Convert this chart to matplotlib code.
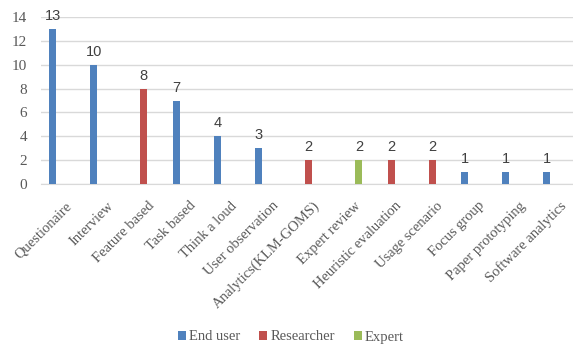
import matplotlib
matplotlib.use("Agg")
import matplotlib.pyplot as plt
import matplotlib.transforms as mtransforms
from matplotlib.font_manager import FontProperties
import numpy as np

categories = ["Questionaire", "Interview", "Feature based", "Task based", "Think a loud",
              "User observation", "Analytics(KLM-GOMS)", "Expert review", "Heuristic evaluation",
              "Usage scenario", "Focus group", "Paper prototyping", "Software analytics"]
end_user   = [13, 10, 0, 7, 4, 3, 0, 0, 0, 0, 1, 1, 1]
researcher = [0, 0, 8, 0, 0, 0, 2, 0, 2, 2, 0, 0, 0]
expert     = [0, 0, 0, 0, 0, 0, 0, 2, 0, 0, 0, 0, 0]
series_names = ["End user", "Researcher", "Expert"]
colors = ["#4F81BD", "#C0504D", "#9BBB59"]

W, H = 573, 347
fig = plt.figure(figsize=(W/100, H/100), dpi=100)
left_px, right_px = 40.9, 573
bottom_px, top_px = 183.7, 17.3
ax = fig.add_axes([left_px/W, 1 - bottom_px/H, (right_px-left_px)/W, (bottom_px-top_px)/H])

x = np.arange(len(categories))
slot = 0.218
bw = 0.17
serif = "Liberation Serif"
for i, (vals, c, name) in enumerate(zip([end_user, researcher, expert], colors, series_names)):
    pos = x + (i - 1) * slot
    ax.bar(pos, vals, width=bw, color=c, label=name, zorder=3)
    for p, v in zip(pos, vals):
        if v > 0:
            ax.text(p, v + 0.5, str(v), ha="center", va="bottom", fontsize=10.5,
                    color="#404040", family="Liberation Sans")

ax.set_xlim(-0.5, -0.5 + (right_px - left_px) / 41.2)
ax.set_ylim(0, 14)
ax.set_yticks(range(0, 15, 2))
ax.yaxis.grid(True, color="#D9D9D9", linewidth=1, zorder=0)
ax.set_axisbelow(True)
for s in ["top", "right", "left"]:
    ax.spines[s].set_visible(False)
ax.spines["bottom"].set_color("#D9D9D9")
ax.tick_params(axis="both", length=0)
ax.tick_params(axis="y", pad=10)
for lab in ax.get_yticklabels():
    lab.set_family(serif)
    lab.set_fontsize(11)
    lab.set_color("#595959")

ax.set_xticks(x)
ax.set_xticklabels(categories, rotation=45, ha="right", rotation_mode="anchor",
                   family=serif, fontsize=10.5, color="#595959")
ax.tick_params(axis="x", pad=9)
offset = mtransforms.ScaledTranslation(4/100, -3/100, fig.dpi_scale_trans)
for lab in ax.get_xticklabels():
    lab.set_transform(lab.get_transform() + offset)

fp = FontProperties(family=serif, size=10.5)
leg = fig.legend(loc="center", bbox_to_anchor=(291/W, 1 - 337/H), ncol=3, frameon=False,
                 prop=fp, handlelength=0.55, handleheight=0.55,
                 handletextpad=0.2, columnspacing=1.3)
for t in leg.get_texts():
    t.set_fontproperties(fp)
    t.set_color("#595959")

fig.savefig("out.png", dpi=100)
